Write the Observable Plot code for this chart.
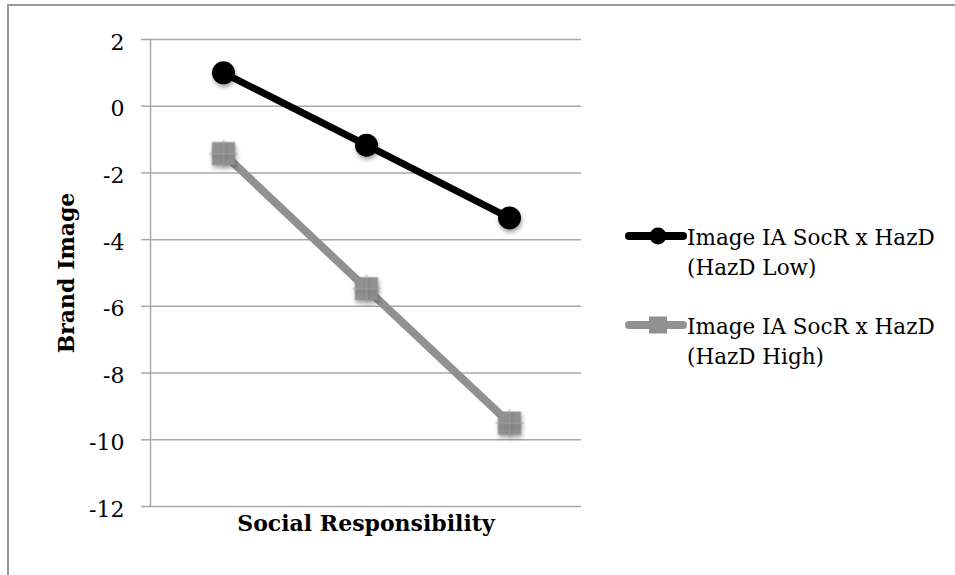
<!DOCTYPE html>
<html>
<head>
<meta charset="utf-8">
<script src="https://cdn.jsdelivr.net/npm/d3@7"></script>
<script src="https://cdn.jsdelivr.net/npm/@observablehq/plot@0.6"></script>
<style>
  html, body { margin: 0; padding: 0; background: #fff; overflow: hidden; }
  #wrap { position: relative; width: 955px; height: 575px; overflow: hidden; font-family: "DejaVu Serif", serif; }
  #border { position: absolute; left: 7px; top: 4px; width: 980px; height: 600px; border-top: 2px solid #9a9a9a; border-left: 2px solid #9a9a9a; }
  #chart { position: absolute; left: 0; top: 0; }
  #legend { position: absolute; left: 624px; top: 218px; }
  .item { position: relative; height: 89px; }
  .item svg { position: absolute; left: 0; top: 0; }
  .item .lab { position: absolute; left: 63px; top: 5px; font-size: 21.5px; line-height: 30px; color: #000; white-space: nowrap; }
  g[aria-label="dot"] { filter: drop-shadow(1px 3px 2px rgba(0,0,0,0.35)); }
</style>
</head>
<body>
<div id="wrap">
  <div id="border"></div>
  <div id="chart"></div>
  <div id="legend"></div>
</div>
<script>
// Data
const categories = ["Low SocR", "Mean SocR", "High SocR"];
const seriesNames = ["Image IA SocR x HazD (HazD Low)", "Image IA SocR x HazD (HazD High)"];
const hazdLow = [1.0, -1.17, -3.35];
const hazdHigh = [-1.42, -5.47, -9.5];
const yTicks = [2, 0, -2, -4, -6, -8, -10, -12];
const xTitle = "Social Responsibility";
const yTitle = "Brand Image";

const lowData = categories.map((c, i) => ({cat: c, value: hazdLow[i]}));
const highData = categories.map((c, i) => ({cat: c, value: hazdHigh[i]}));

const black = "#000000";
const gray = "#919191";
const gridColor = "#a8a8a8";

const chart = Plot.plot({
  width: 955,
  height: 575,
  marginLeft: 150,
  marginRight: 374,
  marginTop: 39,
  marginBottom: 69,
  style: {fontFamily: "DejaVu Serif, serif", fontSize: "22px", color: "#000", background: "transparent"},
  x: {type: "point", domain: categories, padding: 0.5, axis: null},
  y: {domain: [-12, 2], ticks: yTicks, label: null},
  marks: [
    Plot.gridY(yTicks, {stroke: gridColor, strokeOpacity: 1, strokeWidth: 1.5}),
    Plot.axisY(yTicks, {tickSize: 9, tickPadding: 17, stroke: gridColor, strokeWidth: 1.5, label: null, text: null}),
    Plot.axisY(yTicks, {tickSize: 0, tickPadding: 26, dy: 3, fontSize: 22, label: null, tickFormat: d => d < 0 ? "-" + Math.abs(d) : String(d)}),
    Plot.frame({anchor: "left", stroke: gridColor, strokeWidth: 1.5}),
    Plot.line(highData, {x: "cat", y: "value", stroke: gray, strokeWidth: 8}),
    Plot.line(lowData, {x: "cat", y: "value", stroke: black, strokeWidth: 7}),
    Plot.dot(highData, {x: "cat", y: "value", symbol: "square", r: 13, fill: gray, stroke: null}),
    Plot.dot(highData, {x: "cat", y: "value", symbol: "plus", r: 9, stroke: "#a3a3a3", strokeWidth: 1}),
    Plot.dot(lowData, {x: "cat", y: "value", r: 11.5, fill: black, stroke: null}),
    Plot.text([xTitle], {frameAnchor: "bottom", dy: 24, fontWeight: "bold", fontSize: 22, fill: "#000"}),
    Plot.text([yTitle], {frameAnchor: "left", dx: -84, rotate: -90, textAnchor: "middle", fontWeight: "bold", fontSize: 22, fill: "#000"})
  ]
});
document.getElementById("chart").appendChild(chart);

// Legend
const legend = document.getElementById("legend");
const legendSpecs = [
  {name: seriesNames[0], color: black, symbol: "circle"},
  {name: seriesNames[1], color: gray, symbol: "square"}
];
legendSpecs.forEach((s, i) => {
  const item = document.createElement("div");
  item.className = "item";
  const svg = d3.create("svg").attr("width", 64).attr("height", 36);
  svg.append("line").attr("x1", 5).attr("x2", 59).attr("y1", 18).attr("y2", 18)
    .attr("stroke", s.color).attr("stroke-width", 8).attr("stroke-linecap", "round");
  if (s.symbol === "circle") {
    svg.append("circle").attr("cx", 34).attr("cy", 18).attr("r", 8.5).attr("fill", s.color);
  } else {
    svg.append("rect").attr("x", 25).attr("y", 9.5).attr("width", 18).attr("height", 17).attr("fill", s.color);
  }
  item.appendChild(svg.node());
  const lab = document.createElement("div");
  lab.className = "lab";
  const parts = s.name.split(" (");
  lab.appendChild(document.createTextNode(parts[0]));
  lab.appendChild(document.createElement("br"));
  lab.appendChild(document.createTextNode("(" + parts[1]));
  item.appendChild(lab);
  legend.appendChild(item);
});
</script>
</body>
</html>
